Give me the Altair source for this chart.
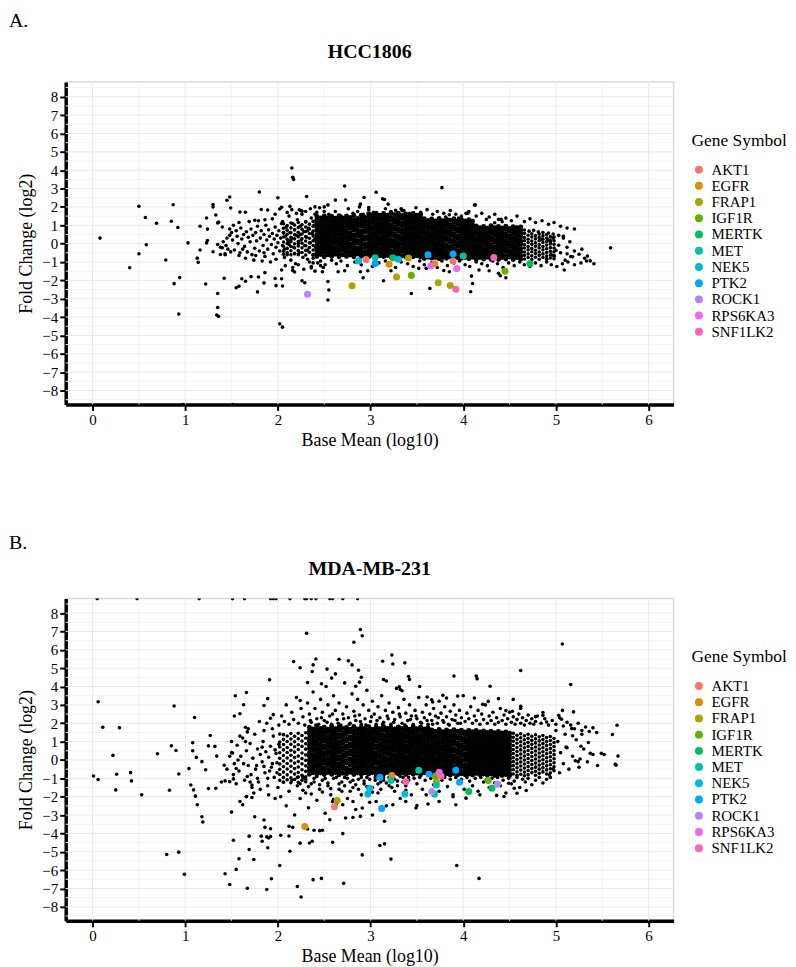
import altair as alt
import pandas as pd

SERIF = "Liberation Serif"

GENES = ["AKT1", "EGFR", "FRAP1", "IGF1R", "MERTK", "MET", "NEK5", "PTK2",
         "ROCK1", "RPS6KA3", "SNF1LK2"]
GENE_COLORS = ["#F8766D", "#DB8E00", "#AEA200", "#64B200", "#00BD5C", "#00C1A7",
               "#00BADE", "#00A6FF", "#B385FF", "#EF67EB", "#FF63B6"]

X_LABELS = [0, 1, 2, 3, 4, 5, 6]
Y_LABELS = [-8, -7, -6, -5, -4, -3, -2, -1, 0, 1, 2, 3, 4, 5, 6, 7, 8]
X_MINOR = [0.5, 1.5, 2.5, 3.5, 4.5, 5.5]
Y_MINOR = [-8.5, -7.5, -6.5, -5.5, -4.5, -3.5, -2.5, -1.5, -0.5, 0.5, 1.5, 2.5, 3.5,
           4.5, 5.5, 6.5, 7.5, 8.5]
X_DOMAIN = [-0.29, 6.27]
Y_DOMAIN = [-8.76, 8.80]

# ---------------- HCC1806 (panel A) ----------------
HCC_GENE = ["AKT1", "AKT1", "EGFR", "EGFR", "FRAP1", "FRAP1", "FRAP1", "FRAP1", "FRAP1",
            "IGF1R", "IGF1R", "MERTK", "MERTK", "MET", "MET", "NEK5", "NEK5",
            "PTK2", "PTK2", "PTK2", "ROCK1", "RPS6KA3", "RPS6KA3", "SNF1LK2", "SNF1LK2"]
HCC_GX = [2.95, 3.89, 3.20, 3.69, 2.80, 3.28, 3.41, 3.73, 3.86,
          3.44, 4.45, 3.24, 4.72, 3.05, 4.00, 2.87, 3.30,
          3.05, 3.62, 3.89, 2.32, 3.65, 3.93, 3.92, 4.33]
HCC_GY = [-0.87, -0.95, -1.12, -1.10, -2.29, -1.82, -0.78, -2.13, -2.28,
          -1.73, -1.50, -0.77, -1.08, -0.77, -0.67, -0.94, -0.85,
          -1.08, -0.61, -0.56, -2.76, -1.21, -1.35, -2.49, -0.76]

# all genes, pairs "x y" in hundredths
HCC_OUTER = """8 30, 50 203, 57 142, 69 111, 58 -6, 50 -55, 40 -131, 87 212, 85 122, 92 88, 79 -89,
103 4, 94 -185, 88 -218, 93 -384, 116 95, 123 140, 130 200, 130 213, 133 156, 135 113, 136 117,
124 79, 124 17, 123 4, 145 236, 148 254, 149 194, 140 91, 116 -35, 113 -79, 114 -102, 130 -44,
122 -220, 135 -272, 135 -348, 134 -389, 136 -397, 142 -189, 140 -23, 138 -59, 143 -55, 155 -240,
158 -232, 161 -191, 165 -205, 171 -180, 179 -182, 178 -263, 185 -214, 186 -158, 204 -191,
205 -231, 202 -437, 205 -455, 165 171, 175 127, 180 281, 189 183, 200 250, 197 160, 202 189,
204 198, 159 172, 98 -876, 151 -876,
215 412, 216 362, 217 350, 272 314, 377 305, 231 257, 306 280, 293 251, 262 237, 273 238,
313 244, 289 215, 288 200, 298 197, 319 215, 333 190, 335 179, 346 168, 412 210, 182 186,
213 203, 223 184, 226 177, 240 200, 250 200, 254 211, 381 145, 385 157, 395 139, 403 165,
425 132, 438 132, 442 119, 455 70, 315 240, 327 181, 334 181, 413 211, 405 166, 460 72, 462 54,
441 132, 434 114, 485 24, 494 9, 508 40, 503 -9, 500 -36, 559 -23, 518 -72, 525 -58, 534 -67,
537 -94, 509 -144, 497 30, 505 -50, 512 -20, 515 10, 520 -40, 528 -30, 531 -80, 498 -70,
510 -90, 490 -85, 495 -60, 492 20,
197 -190, 198 -229, 204 -144, 216 -146, 218 -155, 226 -202, 229 -213, 236 -133, 240 -150,
248 -153, 254 -207, 255 -253, 254 -307, 265 -153, 272 -148, 289 -153, 297 -148, 292 -186,
314 -202, 322 -148, 344 -272, 352 -135, 360 -135, 364 -244, 379 -146, 385 -153, 409 -177,
410 -217, 408 -262, 417 -144, 428 -148, 438 -162, 440 -175, 446 -186"""

HCC_MID = """135 -5, 138 -20, 141 10, 144 -10, 145 30, 148 45, 150 60, 151 20, 153 -35, 155 70,
156 40, 157 0, 159 -50, 160 85, 161 25, 163 50, 164 -15, 166 65, 167 -45, 168 35, 170 10, 171 80,
172 -60, 173 45, 175 -25, 176 60, 177 15, 178 95, 180 -40, 181 30, 182 70, 184 -10, 185 50,
186 -70, 187 100, 188 20, 189 -30, 190 75, 191 40, 193 -5, 194 55, 195 -55, 196 25, 197 90,
198 -20, 199 45, 200 5, 201 70, 202 -40, 203 30, 204 110, 205 -10, 206 60, 207 -75, 143 -60,
149 -45, 158 -65, 165 -80, 174 -90, 183 -95, 192 -100, 152 100, 158 115, 169 120, 179 125,
186 130, 194 135, 148 80, 162 -30, 185 -50, 176 -65, 198 -85, 146 -30,
205 120, 207 -30, 208 40, 209 90, 210 -60, 211 10, 212 150, 213 60, 214 -90, 215 30, 216 110,
217 -20, 218 75, 219 -110, 220 45, 221 130, 222 0, 223 -50, 224 95, 225 20, 226 160, 227 -75,
228 65, 229 -10, 230 120, 231 35, 232 -35, 233 85, 234 -100, 235 5, 236 140, 237 55, 238 -60,
239 100, 240 25, 241 -20, 242 170, 243 70, 244 -45, 245 115, 246 -120, 247 40, 248 -5, 249 145,
250 85, 210 170, 215 185, 220 165, 225 180, 230 175, 235 190, 240 160, 245 195, 250 175,
208 -120, 216 -130, 222 -115, 228 -140, 236 -125, 243 -105, 249 -130, 212 -5, 218 -55, 224 50,
232 70, 238 -80, 244 10, 206 60, 214 20,
255 160, 262 175, 268 150, 276 190, 281 165, 286 175, 292 160, 298 185, 303 170, 309 155,
316 190, 322 175, 328 160, 336 180, 342 165, 349 195, 354 170, 361 185, 367 160, 372 175,
379 165, 386 180, 392 160, 398 150, 406 175, 414 150, 420 165, 428 145, 434 160, 446 140,
452 125, 458 150, 466 120, 472 135, 478 115, 485 125, 492 105, 498 115, 505 95, 512 85, 520 80,
466 74, 471 68, 476 72, 481 64, 486 60, 492 58, 497 52, 503 45, 508 30, 512 -55, 516 -70,
232 -85, 238 -105, 246 -95, 251 -115, 258 -90, 263 -110, 268 -95, 275 -120, 283 -100, 290 -115,
296 -95, 302 -125, 309 -105, 316 -95, 321 -115, 327 -130, 333 -100, 340 -110, 346 -125,
353 -95, 358 -115, 366 -105, 372 -130, 377 -95, 383 -120, 390 -105, 396 -95, 402 -115,
407 -125, 414 -100, 420 -110, 426 -120, 432 -95, 437 -110, 443 -130, 449 -105, 455 -120,
461 -100, 466 -115, 472 -125, 478 -105, 484 -120, 490 -100, 495 -115, 501 -125, 507 -110,
513 -100, 520 -115, 527 -105, 533 -95, 541 -110"""

# thinning edges of the cloud, columns "x: y y y" in hundredths
HCC_EDGE = """206: 108 84 58 36 9 -14 -41 -58; 210: 98 73 51 24 1 -26 -49;
214: 112 86 61 34 11 -16 -39 -61; 218: 101 76 49 26 -1 -24 -52;
222: 115 88 62 37 12 -13 -38 -60; 226: 103 78 52 27 2 -23 -48;
230: 118 91 66 38 14 -12 -37 -62; 234: 106 80 55 29 4 -21 -47;
238: 121 95 68 41 16 -10 -35 -63;
466: 56 34 16 -6 -24 -46 -64 -84; 470: 46 24 6 -16 -34 -56 -76;
474: 54 36 14 -4 -26 -44 -66 -86; 478: 44 26 4 -14 -36 -54 -74;
482: 52 34 16 -6 -24 -46 -64 -85; 486: 42 24 6 -16 -34 -56 -76;
490: 50 30 12 -8 -28 -48 -68 -84; 494: 38 18 -2 -22 -42 -62 -78;
498: 36 16 -4 -24 -44 -64 -82"""

# solid core, columns "x: y y y" in hundredths
HCC_CORE = """242: 148 129 109 88 71 49 31 9 -11 -29 -52 -70; 246: 139 119 101 79 61 41 19 1 -21 -41 -59;
250: 151 131 110 91 69 51 29 11 -9 -31 -49 -71; 254: 141 121 99 81 59 39 21 -1 -19 -39 -61;
258: 149 128 111 89 70 48 30 10 -12 -30 -50 -69; 262: 138 120 100 78 60 42 18 0 -22 -40 -58;
266: 152 130 108 90 72 50 28 8 -10 -32 -51 -72; 270: 140 118 98 80 62 40 20 2 -20 -38 -60;
274: 150 132 112 92 68 52 32 12 -8 -28 -48 -70; 278: 142 122 102 82 58 38 22 -2 -18 -42 -62;
282: 153 129 107 87 73 47 27 7 -13 -33 -53 -71; 286: 137 117 97 77 57 43 17 3 -23 -37 -57;
290: 155 133 113 93 67 53 33 13 -7 -27 -47 -69; 294: 143 123 103 83 63 37 23 -3 -17 -43 -63;
298: 163 146 124 106 84 66 44 26 4 -16 -34 -56 -71; 302: 156 134 116 94 76 54 36 14 -6 -24 -46 -64;
306: 166 144 126 104 86 64 46 24 6 -14 -36 -54 -72; 310: 154 136 114 96 74 56 34 16 -4 -26 -44 -66;
314: 164 145 125 105 85 65 45 25 5 -15 -35 -55 -70; 318: 155 135 115 95 75 55 35 15 -5 -25 -45 -65;
322: 167 143 127 103 87 63 47 23 7 -13 -37 -53 -73; 326: 157 133 117 93 77 53 37 13 -7 -23 -47 -63;
330: 165 147 123 107 83 67 43 27 3 -17 -33 -57 -70; 334: 153 137 113 97 73 57 33 17 -3 -27 -43 -67;
338: 162 145 125 105 85 65 45 25 5 -15 -35 -55 -72; 342: 156 135 115 95 75 55 35 15 -5 -25 -45 -65;
346: 164 144 124 104 84 64 44 24 4 -16 -36 -56 -71; 350: 154 134 114 94 74 54 34 14 -6 -26 -46 -66;
354: 160 142 126 106 86 66 46 26 6 -14 -34 -54 -73;
358: 136 114 96 74 56 34 16 -6 -24 -46 -64 -81; 362: 126 104 86 64 46 24 6 -16 -34 -56 -74;
366: 134 116 94 76 54 36 14 -4 -26 -44 -66 -79; 370: 124 106 84 66 44 26 4 -14 -36 -54 -76;
374: 137 115 95 75 55 35 15 -5 -25 -45 -65 -82; 378: 125 105 85 65 45 25 5 -15 -35 -55 -75;
382: 133 113 97 73 57 33 17 -7 -23 -47 -63 -80; 386: 127 103 87 63 47 23 7 -17 -33 -57 -73;
390: 135 117 93 77 53 37 13 -3 -27 -43 -67 -81; 394: 123 107 83 67 43 27 3 -13 -37 -53 -77;
398: 132 114 94 76 56 34 14 -4 -24 -44 -64 -80; 402: 124 104 84 66 46 26 6 -16 -36 -56 -76;
406: 130 112 96 74 54 36 16 -6 -26 -46 -66 -82; 410: 122 102 86 64 44 24 4 -14 -34 -54 -74;
414: 96 74 56 34 16 -6 -24 -46 -64 -86; 418: 86 64 46 24 6 -16 -34 -56 -76;
422: 94 76 54 36 14 -4 -26 -44 -66 -84; 426: 84 66 44 26 4 -14 -36 -54 -74;
430: 97 73 57 33 17 -7 -23 -47 -63 -85; 434: 87 63 47 23 7 -17 -33 -57 -77;
438: 93 75 55 35 15 -5 -25 -45 -65 -86; 442: 85 65 45 25 5 -15 -35 -55 -75;
446: 95 77 53 37 13 -3 -27 -43 -67 -84; 450: 83 67 43 27 3 -13 -37 -53 -73;
454: 92 74 56 34 16 -6 -24 -46 -64 -86; 458: 86 64 46 24 6 -16 -34 -56 -76;
462: 90 72 54 36 14 -4 -26 -44 -66 -85"""

# ---------------- MDA-MB-231 (panel B) ----------------
MDA_GENE = ["AKT1", "EGFR", "EGFR", "FRAP1", "FRAP1", "IGF1R", "IGF1R", "MERTK", "MERTK",
            "MET", "MET", "MET", "MET", "NEK5", "NEK5", "NEK5",
            "PTK2", "PTK2", "PTK2", "PTK2", "PTK2", "ROCK1", "ROCK1", "RPS6KA3",
            "SNF1LK2", "SNF1LK2"]
MDA_GX = [2.61, 2.29, 3.23, 2.64, 3.71, 3.70, 4.27, 4.06, 4.31,
          3.22, 3.52, 3.71, 3.69, 2.99, 2.97, 3.37,
          3.10, 3.12, 3.63, 3.92, 3.96, 3.66, 4.37, 3.74,
          3.38, 3.76]
MDA_GY = [-2.55, -3.63, -0.85, -2.21, -1.18, -0.87, -1.12, -1.72, -1.54,
          -1.12, -0.56, -1.36, -1.86, -1.54, -1.85, -1.85,
          -0.94, -2.64, -0.78, -0.56, -1.21, -1.72, -1.31, -0.67,
          -1.19, -0.87]

MDA_OUTER = """5 879, 48 879, 115 879, 151 879, 164 879, 192 879, 195 879, 198 879, 213 879, 229 879,
231 879, 236 879, 241 879, 256 879, 259 879, 270 879, 286 879,
6 317, 88 294, 110 231, 11 178, 29 175, 22 25, 1 -87, 6 -107, 26 -78, 25 -163, 41 -69, 42 -114,
53 -190, 70 34, 85 77, 90 52, 93 -76, 83 -165, 80 -515, 93 -502, 99 -623, 108 94, 108 50,
127 133, 104 -47, 112 14, 118 -9, 122 -53, 106 -136, 109 -163, 111 -197, 113 -244, 118 -309,
119 -338, 125 77, 132 74, 134 21, 125 -156, 133 -154, 142 -29, 150 101, 151 38, 152 -103,
143 -114, 139 -120, 148 -118, 154 350, 166 368,
231 690, 289 711, 291 677, 282 641, 323 572, 241 550, 266 549, 217 536, 224 502, 191 437,
232 422, 238 518, 237 482, 276 540, 280 518, 253 495, 262 469, 258 446, 247 415, 287 489,
290 451, 288 424, 284 402, 313 538, 324 523, 337 529, 314 438, 317 430, 341 455, 342 438,
331 399, 332 384, 334 377, 353 400, 361 343, 366 328, 367 316, 390 457, 394 348, 414 457,
415 442, 429 402, 412 337, 421 303, 427 319, 378 352, 382 337, 507 632, 462 487, 516 411,
438 334, 454 330, 462 292, 462 280, 446 269, 453 265, 478 236, 486 258, 486 243, 490 207,
503 243, 507 270, 506 222, 519 262, 517 171, 528 140, 518 132, 535 95, 537 36, 549 36, 552 30,
527 75, 512 67, 524 -9, 521 -4, 526 5, 493 -82, 497 -49, 468 -166, 455 -154, 458 -181,
444 -199, 436 -193, 449 -127, 438 -130, 566 189, 561 139, 567 21, 564 -24, 565 -28, 224 324,
185 297, 189 334, 195 247, 192 227, 163 301, 153 240, 159 252, 165 178, 167 153,
152 -437, 169 -415, 169 -488, 158 -538, 174 -542, 155 -596, 143 -620, 148 -678, 167 -699,
188 -706, 193 -647, 202 -575, 213 -497, 221 -689, 225 -746, 182 -415, 190 -425, 189 -478,
175 -309, 185 -327, 186 -367, 192 -375, 192 -417, 188 -419, 183 -443, 203 -410, 212 -414,
216 -367, 212 -361, 224 -453, 238 -652, 247 -645, 271 -672, 291 -517, 310 -466, 315 -457,
322 -540, 315 -334, 270 -401, 259 -448, 234 -452, 237 -443, 393 -575, 417 -645, 392 -244,
350 -248, 302 -300, 289 -307, 281 -313, 273 -316, 256 -326, 248 -383, 245 -385, 239 -383,
232 -376, 150 -284, 172 -204, 166 -199, 159 -226, 162 -244, 172 -136, 155 -46, 259 -226,
270 -244, 281 -226, 291 -262, 306 -226, 324 -244, 338 -226, 349 -262, 360 -190, 374 -226,
389 -190, 403 -208, 418 -190,
502 100, 505 40, 508 -20, 511 70, 514 -50, 518 20, 522 110, 525 -40, 530 60, 534 -10, 540 30,
545 -30, 500 160, 504 -70, 510 140"""

MDA_MID = """150 40, 153 -20, 156 80, 158 -60, 160 20, 162 120, 164 -110, 166 50, 168 -30, 170 90,
171 -80, 173 10, 175 140, 176 -50, 178 60, 179 -120, 181 30, 183 -10, 184 100, 186 -70, 187 45,
189 -140, 190 15, 192 75, 193 -40, 195 130, 196 -95, 198 35, 199 -15, 201 85, 181 -160, 185 160,
174 -180, 190 -190, 197 -210, 194 170, 188 200, 180 210, 172 -150, 166 -200, 159 130, 155 -130,
168 170, 177 -30, 185 -35, 191 -60, 197 55, 163 -20, 167 -90, 178 -100, 183 70, 189 -100,
194 -20, 199 -70, 170 -120, 165 100, 157 0, 152 -80, 148 20, 145 -50,
201 190, 204 240, 207 210, 209 300, 212 195, 215 260, 217 220, 220 340, 222 200, 225 280,
227 235, 229 190, 232 310, 234 250, 236 205, 238 370, 240 280, 242 225, 244 195, 246 330,
248 260, 250 215, 252 400, 254 300, 256 240, 258 195, 260 350, 262 270, 264 220, 266 310,
268 190, 270 250, 272 420, 274 290, 276 230, 278 200, 280 360, 282 265, 284 215, 286 330,
288 245, 290 195, 292 300, 294 225, 296 380, 298 270, 300 210, 302 320, 304 250, 306 195,
308 290, 310 230, 312 350, 314 205, 316 270, 318 240, 320 310, 322 195, 324 260, 326 220,
328 390, 330 285, 332 235, 334 200, 336 330, 338 255, 340 215, 342 300, 344 240, 346 195,
348 270, 350 225, 352 340, 354 205, 356 260, 358 230, 360 300, 362 195, 364 250, 366 215,
368 280, 370 240, 372 200, 374 320, 376 255, 378 215, 380 290, 382 235, 384 195, 386 265,
388 220, 390 300, 392 245, 394 200, 396 270, 398 230, 400 350, 402 210, 404 255, 406 225,
408 290, 410 200, 412 240, 414 215, 416 270, 418 195, 420 250, 422 220, 424 300, 426 200,
428 240, 430 215, 432 260, 434 195, 436 230, 438 205, 440 280, 442 215, 444 245, 446 195,
448 225, 450 260, 452 205, 454 235, 456 195, 458 220, 460 250, 462 200, 464 230, 466 190,
468 215, 470 245, 472 200, 474 225, 476 195, 478 210, 480 240, 484 200, 488 225, 492 190,
496 215, 500 195, 504 230, 508 185, 512 205, 516 190, 520 170, 524 200, 528 160, 532 180,
536 155, 540 175, 544 150,
235 215, 241 190, 247 230, 253 205, 259 250, 265 200, 271 225, 277 195, 283 240, 289 210,
295 190, 301 235, 307 215, 313 195, 319 225, 325 205, 331 250, 337 190, 343 220, 349 240,
355 200, 361 215, 367 195, 373 230, 379 205, 385 190, 391 215, 397 200,
200 -150, 203 -200, 206 -120, 209 -250, 212 -170, 215 -110, 218 -300, 221 -140, 224 -210,
227 -95, 230 -180, 233 -260, 236 -130, 239 -100, 242 -220, 245 -160, 248 -110, 251 -290,
254 -140, 257 -190, 260 -100, 263 -240, 266 -130, 269 -170, 272 -95, 275 -210, 278 -120,
281 -150, 284 -270, 287 -105, 290 -190, 293 -130, 296 -95, 299 -230, 302 -150, 305 -110,
308 -180, 311 -120, 314 -95, 317 -250, 320 -140, 323 -105, 326 -170, 329 -115, 332 -210,
335 -95, 338 -140, 341 -110, 344 -190, 347 -100, 350 -130, 353 -95, 356 -160, 359 -110,
362 -240, 365 -100, 368 -135, 371 -95, 374 -170, 377 -110, 380 -95, 383 -145, 386 -105,
389 -200, 392 -95, 395 -125, 398 -105, 401 -160, 404 -95, 407 -115, 410 -140, 413 -100,
416 -170, 419 -95, 422 -120, 425 -105, 428 -150, 431 -100, 434 -125, 437 -95, 440 -140,
443 -110, 446 -180, 449 -100, 452 -130, 455 -115, 458 -95, 461 -150, 464 -105, 467 -120,
470 -100, 474 -135, 478 -110, 482 -95, 486 -125, 490 -105, 494 -95,
221 -95, 224 -130, 227 -165, 230 -105, 233 -145, 236 -185, 239 -120, 242 -90, 245 -135,
248 -175, 251 -100, 254 -125, 257 -155, 260 -215, 263 -95, 266 -160, 269 -120, 272 -140,
275 -100, 278 -170, 281 -110, 284 -135, 287 -160, 290 -95, 293 -115, 296 -145, 299 -105,
302 -175, 305 -95, 308 -130, 311 -160, 314 -110, 317 -125, 320 -95, 323 -150, 326 -105,
329 -140, 332 -90, 335 -120, 338 -165, 341 -95"""

MDA_EDGE = """202: 141 98 71 39 9 -22 -51 -79 -111; 206: 138 112 84 55 24 -6 -36 -66 -95 -121;
210: 131 101 68 41 11 -19 -49 -81 -108; 214: 144 114 86 53 26 -4 -34 -64 -97 -124;
218: 129 99 72 43 13 -17 -47 -77 -106; 222: 146 116 83 57 22 -8 -38 -68 -93 -122;
226: 133 103 74 38 8 -21 -53 -83 -110; 230: 148 118 88 59 28 -2 -32 -62 -92 -119;
454: 146 124 102 79 57 35 13 -9 -31 -53 -76; 458: 135 113 91 68 46 24 2 -20 -42 -64 -84;
462: 143 121 99 77 55 33 11 -11 -33 -55 -78; 466: 132 110 88 66 44 22 0 -22 -44 -66 -86;
470: 140 118 96 74 52 30 8 -14 -36 -58 -80; 474: 129 107 85 63 41 19 -3 -25 -47 -69;
478: 137 115 93 71 49 27 5 -17 -39 -61 -83; 482: 126 104 82 60 38 16 -6 -28 -50 -72;
486: 133 111 89 67 45 23 1 -21 -43 -65; 490: 122 100 78 56 34 12 -10 -32 -54 -76;
494: 128 106 84 62 40 18 -4 -26 -48 -70; 498: 117 95 73 51 29 7 -15 -37 -59"""

MDA_CORE = """234: 178 159 141 119 101 79 61 39 21 -1 -19 -41 -59 -78; 238: 169 149 131 109 91 69 51 29 11 -9 -31 -49 -69;
242: 181 161 139 121 99 81 59 41 19 1 -21 -39 -61 -77; 246: 171 151 129 111 89 71 49 31 9 -11 -29 -51 -71;
250: 179 158 142 118 102 78 62 38 22 -2 -18 -42 -58 -79; 254: 168 152 128 112 88 72 48 32 8 -12 -28 -52 -68;
258: 182 160 140 120 100 80 60 40 20 0 -20 -40 -60 -78; 262: 170 150 130 110 90 70 50 30 10 -10 -30 -50 -70;
266: 180 162 138 122 98 82 58 42 18 2 -22 -38 -62 -80; 270: 172 148 132 108 92 68 52 28 12 -8 -32 -48 -72;
274: 177 157 143 117 103 77 63 37 23 -3 -17 -43 -57 -77; 278: 167 153 127 113 87 73 47 33 7 -13 -27 -53 -67;
282: 183 161 141 119 99 79 61 39 21 -1 -19 -41 -59 -79; 286: 169 149 129 111 91 71 49 29 11 -11 -31 -49 -71;
290: 178 160 140 120 100 80 60 40 20 0 -20 -40 -60 -78; 294: 171 151 131 109 89 69 51 31 9 -9 -29 -51 -69;
298: 181 159 139 121 101 81 59 39 19 1 -21 -41 -61 -77; 302: 168 150 128 110 90 70 48 30 10 -10 -28 -50 -70;
306: 179 158 142 118 102 78 62 38 22 -2 -18 -42 -58 -79; 310: 170 148 132 112 88 72 50 28 12 -12 -30 -48 -72;
314: 182 162 138 120 98 80 58 40 18 0 -22 -40 -62 -78; 318: 172 152 130 108 92 70 52 32 8 -8 -32 -52 -68;
322: 177 159 141 121 99 79 61 41 21 1 -19 -39 -59 -80; 326: 169 149 131 111 91 71 51 29 9 -11 -29 -49 -71;
330: 180 160 140 118 100 82 60 38 20 -2 -20 -42 -60 -77; 334: 171 150 129 110 90 69 50 31 11 -9 -30 -51 -69;
338: 178 161 139 122 101 78 59 42 19 0 -21 -40 -61 -79; 342: 168 151 131 109 89 71 49 30 10 -10 -31 -50 -70;
346: 181 159 141 120 99 80 61 39 21 -1 -19 -41 -59 -78; 350: 170 149 128 111 92 70 49 29 11 -11 -29 -49 -71;
354: 179 160 138 119 100 81 60 40 19 1 -20 -40 -60 -80; 358: 169 151 132 110 90 71 50 31 8 -9 -30 -50 -70;
362: 176 158 140 121 101 79 59 39 20 0 -20 -42 -61 -78;
366: 164 146 124 106 84 66 44 26 4 -16 -34 -56 -74; 370: 156 134 116 94 76 54 36 14 -6 -24 -46 -64 -81;
374: 166 144 126 104 86 64 46 24 6 -14 -36 -54 -76; 378: 154 136 114 96 74 56 34 16 -4 -26 -44 -66 -80;
382: 163 145 125 105 85 65 45 25 5 -15 -35 -55 -75; 386: 155 135 115 95 75 55 35 15 -5 -25 -45 -65 -82;
390: 165 143 127 103 87 63 47 23 7 -13 -37 -53 -74; 394: 157 133 117 93 77 53 37 13 -7 -23 -47 -63 -81;
398: 162 147 123 107 83 67 43 27 3 -17 -33 -57 -75; 402: 153 137 113 97 73 57 33 17 -3 -27 -43 -67 -80;
406: 160 144 124 104 84 64 44 24 4 -16 -36 -56 -76; 410: 154 134 114 94 74 54 34 14 -6 -26 -46 -66 -82;
414: 161 143 125 105 85 65 45 25 5 -15 -35 -55 -74; 418: 152 136 116 96 76 56 36 16 -4 -24 -44 -64 -81;
422: 158 142 122 102 82 62 42 22 2 -18 -38 -58 -76; 426: 150 132 112 92 72 52 32 12 -8 -28 -48 -68 -83;
430: 157 141 121 101 81 61 41 21 1 -19 -39 -59 -77; 434: 149 131 111 91 71 51 31 11 -9 -29 -49 -69 -84;
438: 155 139 119 99 79 59 39 19 -1 -21 -41 -61 -79; 442: 147 129 109 89 69 49 29 9 -11 -31 -51 -71 -85;
446: 153 137 117 97 77 57 37 17 -3 -23 -43 -63 -80; 450: 145 127 107 87 67 47 27 7 -13 -33 -53 -73 -86"""


def pairs(s):
    out = []
    for chunk in s.split(","):
        p = chunk.split()
        if len(p) == 2:
            out.append((int(p[0]) / 100, int(p[1]) / 100))
    return out


def columns(s):
    out = []
    for chunk in s.split(";"):
        if ":" not in chunk:
            continue
        xs, ys = chunk.split(":")
        out += [(int(xs) / 100, int(t) / 100) for t in ys.split()]
    return out


MAJOR = "#e9e9e9"
MINOR = "#f4f4f4"

X_SCALE = alt.Scale(domain=X_DOMAIN, nice=False, zero=False)
Y_SCALE = alt.Scale(domain=Y_DOMAIN, nice=False, zero=False)
XE = alt.X("x:Q", scale=X_SCALE,
           axis=alt.Axis(values=X_LABELS, format="d", title="Base Mean (log10)",
                         labelOverlap=False, labelFlush=False, titlePadding=4))
YE = alt.Y("y:Q", scale=Y_SCALE,
           axis=alt.Axis(values=Y_LABELS, format="d", title="Fold Change (log2)",
                         labelOverlap=False, labelFlush=False, titlePadding=6))


def grid_layers():
    out = []
    for vals, color in ((X_MINOR, MINOR), (X_LABELS, MAJOR)):
        out.append(alt.Chart(pd.DataFrame({"x": vals})).mark_rule(
            color=color, strokeWidth=1).encode(x=XE))
    for vals, color in ((Y_MINOR, MINOR), (Y_LABELS, MAJOR)):
        out.append(alt.Chart(pd.DataFrame({"y": vals})).mark_rule(
            color=color, strokeWidth=1).encode(y=YE))
    return out


def panel(spread, core, gene, gx, gy, title, letter, letter_y):
    sdf = pd.DataFrame(spread, columns=["x", "y"])
    cdf = pd.DataFrame(core, columns=["x", "y"])
    gdf = pd.DataFrame({"gene": gene, "x": gx, "y": gy})
    pts = alt.Chart(sdf).mark_circle(size=13, color="black", opacity=1, clip=True).encode(x=XE, y=YE)
    cpts = alt.Chart(cdf).mark_circle(size=25, color="black", opacity=1, clip=True).encode(x=XE, y=YE)
    gpts = alt.Chart(gdf).mark_circle(size=50, opacity=1, clip=True).encode(
        x=XE, y=YE,
        color=alt.Color("gene:N", scale=alt.Scale(domain=GENES, range=GENE_COLORS),
                        legend=alt.Legend(
                            title="Gene Symbol", orient="none", legendX=629, legendY=50,
                            titleFont=SERIF, titleFontSize=17.5, titleFontWeight="normal",
                            titleColor="black", titlePadding=13,
                            labelFont=SERIF, labelFontSize=15, labelColor="black",
                            labelOffset=5, symbolType="circle", symbolSize=64,
                            symbolStrokeWidth=0, symbolOpacity=1, rowPadding=0.3)),
    )
    one = alt.Data(values=[{}])
    lab = alt.Chart(one).mark_text(
        text=letter, align="left", baseline="top", font=SERIF, fontSize=20, color="black"
    ).encode(x=alt.value(-57), y=alt.value(letter_y))
    ttl = alt.Chart(one).mark_text(
        text=title, align="center", baseline="alphabetic", font=SERIF, fontSize=20,
        fontWeight="bold", color="black"
    ).encode(x=alt.value(305.5), y=alt.value(-24))
    return alt.layer(*grid_layers(), pts, cpts, gpts, lab, ttl).properties(width=611, height=324)


a = panel(pairs(HCC_OUTER) + pairs(HCC_MID) + columns(HCC_EDGE), columns(HCC_CORE),
          HCC_GENE, HCC_GX, HCC_GY, "HCC1806", "A.", -71)
b = panel(pairs(MDA_OUTER) + pairs(MDA_MID) + columns(MDA_EDGE), columns(MDA_CORE),
          MDA_GENE, MDA_GX, MDA_GY, "MDA-MB-231", "B.", -66)

chart = alt.vconcat(a, b, spacing=195, bounds="flush").resolve_scale(
    color="independent").resolve_legend(color="independent").properties(
    padding={"left": 0, "top": 0, "right": 0, "bottom": 0}, background="white"
).configure_view(stroke="#d9d9d9", strokeWidth=1.5).configure_axis(
    domainColor="black", domainWidth=3.5, tickColor="black", tickWidth=2, tickSize=6,
    labelFont=SERIF, labelFontSize=15, labelColor="black", labelPadding=2,
    titleFont=SERIF, titleFontSize=18, titleFontWeight="normal", titleColor="black",
    grid=False,
)

chart.save("out.html", embed_options={"renderer": "svg", "actions": False})
